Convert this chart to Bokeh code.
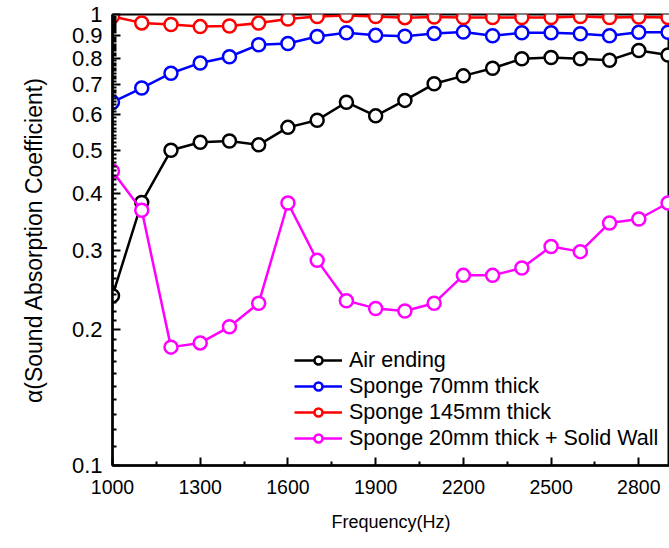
from bokeh.plotting import figure
from bokeh.models import FixedTicker, Legend, LegendItem, CustomJSTickFormatter
from bokeh.embed import file_html
from bokeh.resources import INLINE

freq = [1000, 1100, 1200, 1300, 1400, 1500, 1600, 1700, 1800, 1900,
        2000, 2100, 2200, 2300, 2400, 2500, 2600, 2700, 2800, 2900]
air_ending = [0.238, 0.383, 0.500, 0.521, 0.524, 0.514, 0.562, 0.583, 0.639, 0.596,
              0.645, 0.702, 0.731, 0.760, 0.798, 0.803, 0.798, 0.792, 0.832, 0.813]
sponge_70 = [0.639, 0.687, 0.741, 0.781, 0.806, 0.857, 0.862, 0.894, 0.911, 0.899,
             0.895, 0.908, 0.914, 0.897, 0.911, 0.911, 0.906, 0.897, 0.913, 0.913]
sponge_145 = [0.990, 0.958, 0.950, 0.940, 0.943, 0.957, 0.977, 0.990, 0.995, 0.990,
              0.984, 0.987, 0.985, 0.985, 0.985, 0.985, 0.990, 0.985, 0.987, 0.985]
sponge_20_wall = [0.449, 0.368, 0.183, 0.187, 0.203, 0.229, 0.382, 0.285, 0.232, 0.223,
                  0.220, 0.229, 0.264, 0.264, 0.274, 0.306, 0.298, 0.345, 0.352, 0.382]

series_labels = ["Air ending", "Sponge 70mm thick", "Sponge 145mm thick",
                 "Sponge 20mm thick + Solid Wall"]
series_colors = ["#000000", "#0000ff", "#ff0000", "#ff00ff"]

x_ticks = [1000, 1300, 1600, 1900, 2200, 2500, 2800]
x_minor = [1150, 1450, 1750, 2050, 2350, 2650]
y_ticks = [0.1, 0.2, 0.3, 0.4, 0.5, 0.6, 0.7, 0.8, 0.9, 1.0]
y_minor = [round(0.1 + 0.01 * i, 2) for i in range(1, 90) if i % 10 != 0]

FONT = "Liberation Sans"

p = figure(width=669, height=548, x_range=(1000, 2905), y_range=(0.1, 1.0),
           y_axis_type="log", output_backend="svg", toolbar_location=None,
           min_border_left=112, min_border_right=0, min_border_top=14,
           min_border_bottom=83)

p.xgrid.visible = False
p.ygrid.visible = False
p.outline_line_color = "#000000"
p.outline_line_width = 2
p.background_fill_color = "white"

renderers = []
for ys, col in zip([air_ending, sponge_70, sponge_145, sponge_20_wall], series_colors):
    lr = p.line(freq, ys, line_color=col, line_width=2.5)
    sr = p.scatter(freq, ys, marker="circle", size=13, line_color=col,
                   fill_color="white", line_width=2.5)
    renderers.append([lr, sr])

xa = p.xaxis[0]
xa.ticker = FixedTicker(ticks=x_ticks, minor_ticks=x_minor)
xa.axis_label = "Frequency(Hz)"
xa.axis_label_text_font = FONT
xa.axis_label_text_font_size = "18px"
xa.axis_label_text_font_style = "normal"
xa.axis_label_standoff = 15
xa.major_label_text_font = FONT
xa.major_label_text_font_size = "19.5px"
xa.major_label_standoff = 14

ya = p.yaxis[0]
ya.ticker = FixedTicker(ticks=y_ticks, minor_ticks=y_minor)
ya.formatter = CustomJSTickFormatter(code="return (Math.abs(tick-1)<1e-9) ? '1' : tick.toFixed(1);")
ya.axis_label = "\u03b1(Sound Absorption Coefficient)"
ya.axis_label_text_font = FONT
ya.axis_label_text_font_size = "23px"
ya.axis_label_text_font_style = "normal"
ya.axis_label_standoff = 22
ya.major_label_text_font = FONT
ya.major_label_text_font_size = "22px"
ya.major_label_standoff = 10

for ax in (xa, ya):
    ax.axis_line_width = 2.5
    ax.axis_line_color = "#000000"
    ax.major_tick_in = 8
    ax.major_tick_out = 0
    ax.minor_tick_in = 4
    ax.minor_tick_out = 0
    ax.major_tick_line_width = 2
    ax.minor_tick_line_width = 2
    ax.major_tick_line_color = "#000000"
    ax.minor_tick_line_color = "#000000"
    ax.major_label_text_color = "#000000"
    ax.axis_label_text_color = "#000000"

items = [LegendItem(label=lab, renderers=r) for lab, r in zip(series_labels, renderers)]
legend = Legend(items=items, location=(182, 14), border_line_color=None,
                background_fill_alpha=0, padding=0, margin=0, spacing=0,
                glyph_width=48, glyph_height=20, label_height=26, label_standoff=7,
                label_text_font=FONT, label_text_font_size="21.5px",
                label_text_color="#000000")
p.add_layout(legend)

open("out.html", "w").write(file_html(p, INLINE))
